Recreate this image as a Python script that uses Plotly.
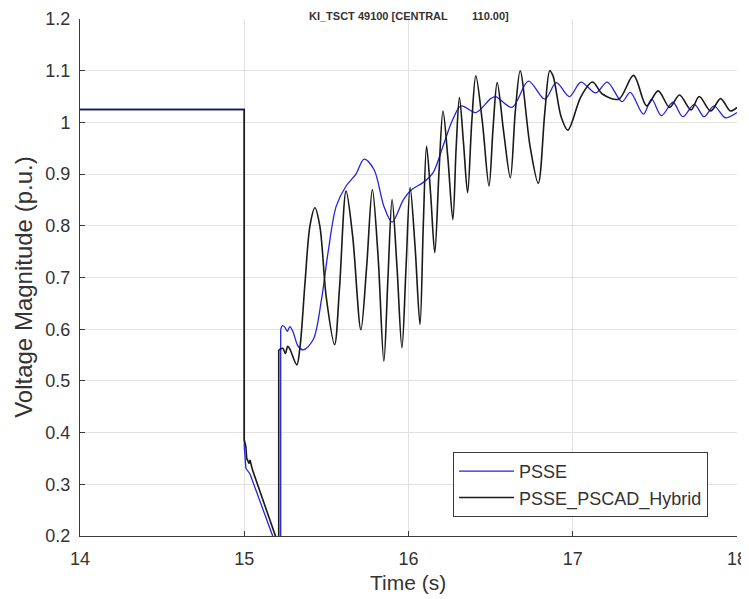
import plotly.graph_objects as go

# ---------------- data ----------------
# PSSE_PSCAD_Hybrid (black) - fault part (straight segments)
hyb_fault_t = [14.0, 15.0, 15.0, 15.005, 15.01, 15.015, 15.03, 15.035, 15.05, 15.19, 15.205, 15.21, 15.21]
hyb_fault_v = [1.025, 1.025, 0.386, 0.38, 0.373, 0.35, 0.34, 0.347, 0.328, 0.2, 0.05, 0.05, 0.56]
# PSSE_PSCAD_Hybrid (black) - recovery part (smooth)
hyb_rec_t = [15.21, 15.235, 15.25, 15.265, 15.28, 15.32, 15.34, 15.37, 15.40, 15.43, 15.46, 15.50,
             15.55, 15.58, 15.62, 15.66, 15.71, 15.745, 15.78, 15.815, 15.85, 15.875, 15.90, 15.93,
             15.96, 15.985, 16.01, 16.04, 16.07, 16.09, 16.11, 16.135, 16.16, 16.185, 16.21, 16.24,
             16.27, 16.29, 16.31, 16.335, 16.36, 16.385, 16.41, 16.45, 16.49, 16.515, 16.54, 16.58,
             16.62, 16.65, 16.68, 16.74, 16.79, 16.83, 16.86, 16.88, 16.93, 16.97, 17.05, 17.12,
             17.18, 17.28, 17.37, 17.45, 17.52, 17.59, 17.65, 17.72, 17.77, 17.84, 17.90, 17.96, 18.0]
hyb_rec_v = [0.56, 0.563, 0.553, 0.567, 0.56, 0.531, 0.567, 0.69, 0.80, 0.835, 0.80, 0.66,
             0.570, 0.68, 0.867, 0.78, 0.599, 0.72, 0.87, 0.74, 0.538, 0.70, 0.851, 0.72,
             0.564, 0.72, 0.874, 0.76, 0.609, 0.80, 0.954, 0.86, 0.748, 0.90, 1.022, 0.93,
             0.812, 0.95, 1.048, 0.96, 0.864, 1.00, 1.09, 1.00, 0.877, 0.99, 1.077, 0.98,
             0.893, 1.02, 1.10, 0.954, 0.882, 1.02, 1.10, 1.09, 1.01, 0.985, 1.05, 1.078,
             1.055, 1.045, 1.091, 1.032, 1.061, 1.029, 1.053, 1.024, 1.050, 1.022, 1.046, 1.022, 1.029]

# PSSE (blue) - fault part
psse_fault_t = [14.0, 15.0, 15.0, 15.005, 15.01, 15.035, 15.173, 15.2, 15.222, 15.222]
psse_fault_v = [1.025, 1.025, 0.373, 0.34, 0.331, 0.32, 0.2, 0.05, 0.05, 0.60]
# PSSE (blue) - recovery part
psse_rec_t = [15.222, 15.232, 15.247, 15.262, 15.278, 15.298, 15.328, 15.36, 15.42, 15.47, 15.51,
              15.56, 15.62, 15.68, 15.73, 15.79, 15.85, 15.90, 15.97, 16.02, 16.09, 16.15, 16.21,
              16.27, 16.32, 16.41, 16.50, 16.53, 16.63, 16.73, 16.83, 16.90, 16.98, 17.05, 17.14,
              17.21, 17.30, 17.35, 17.43, 17.48, 17.54, 17.61, 17.67, 17.74, 17.80, 17.86, 17.93, 18.0]
psse_rec_v = [0.60, 0.607, 0.604, 0.596, 0.605, 0.594, 0.567, 0.56, 0.58, 0.657, 0.748,
              0.838, 0.877, 0.90, 0.929, 0.909, 0.838, 0.807, 0.851, 0.87, 0.884, 0.903, 0.954,
              1.006, 1.032, 1.019, 1.046, 1.050, 1.029, 1.080, 1.045, 1.077, 1.050, 1.078, 1.057,
              1.078, 1.040, 1.058, 1.016, 1.045, 1.013, 1.039, 1.011, 1.035, 1.011, 1.032, 1.009, 1.019]

series_names = ["PSSE", "PSSE_PSCAD_Hybrid"]
x_ticks = [14, 15, 16, 17, 18]
y_ticks = [0.2, 0.3, 0.4, 0.5, 0.6, 0.7, 0.8, 0.9, 1.0, 1.1, 1.2]
y_tick_labels = ["0.2", "0.3", "0.4", "0.5", "0.6", "0.7", "0.8", "0.9", "1", "1.1", "1.2"]
title_text = "KI_TSCT 49100 [CENTRAL        110.00]"
x_title = "Time (s)"
y_title = "Voltage Magnitude (p.u.)"

BLUE = "#2323e0"
BLACK = "#1a1a1a"
FONT = "Liberation Sans, Arial, Helvetica, sans-serif"
TXT = "#333333"

fig = go.Figure()
fig.add_trace(go.Scatter(x=psse_fault_t, y=psse_fault_v, mode="lines", name=series_names[0],
                         legendgroup="psse", showlegend=True,
                         line=dict(color=BLUE, width=1.3)))
fig.add_trace(go.Scatter(x=psse_rec_t, y=psse_rec_v, mode="lines", name=series_names[0],
                         legendgroup="psse", showlegend=False,
                         line=dict(color=BLUE, width=1.3, shape="spline", smoothing=0.9)))
fig.add_trace(go.Scatter(x=hyb_fault_t, y=hyb_fault_v, mode="lines", name=series_names[1],
                         legendgroup="hyb", showlegend=True,
                         line=dict(color=BLACK, width=1.6)))
fig.add_trace(go.Scatter(x=hyb_rec_t, y=hyb_rec_v, mode="lines", name=series_names[1],
                         legendgroup="hyb", showlegend=False,
                         line=dict(color=BLACK, width=1.6, shape="spline", smoothing=0.9)))

axis_common = dict(
    showline=True, linecolor="#3a3a3a", linewidth=1,
    ticks="inside", ticklen=5, tickcolor="#3a3a3a", tickwidth=1,
    showgrid=True, gridcolor="#e2e2e2", gridwidth=1,
    zeroline=False, mirror=False, automargin=False,
    tickfont=dict(family=FONT, size=18, color=TXT),
)

# the page body adds an 8 px margin, so the figure is 8 px smaller each way
fig.update_layout(
    width=741, height=591,
    margin=dict(l=72, r=12, t=11, b=63),
    paper_bgcolor="white", plot_bgcolor="white",
    font=dict(family=FONT, color=TXT),
    showlegend=True,
    legend=dict(
        x=0.956, y=0.037, xanchor="right", yanchor="bottom",
        bgcolor="white", bordercolor="#3a3a3a", borderwidth=1,
        font=dict(family=FONT, size=18, color=TXT),
        tracegroupgap=0, itemwidth=55,
    ),
    xaxis=dict(range=[14, 18], tickvals=x_ticks, ticktext=[str(v) for v in x_ticks],
               ticklabelstandoff=6, **axis_common),
    yaxis=dict(range=[0.2, 1.2], tickvals=y_ticks, ticktext=y_tick_labels,
               ticklabelstandoff=5, **axis_common),
)

# axis titles placed as in the reference
fig.add_annotation(text=x_title, xref="paper", yref="paper", x=0.4992, y=-0.089,
                   xanchor="center", yanchor="middle", showarrow=False,
                   font=dict(family=FONT, size=21, color=TXT))
fig.add_annotation(text=y_title, xref="paper", yref="paper", x=-0.087, y=0.4816,
                   xanchor="center", yanchor="middle", textangle=-90, showarrow=False,
                   font=dict(family=FONT, size=24, color=TXT))

# title (mostly cropped in the reference) kept small so it fits above the axes
fig.add_annotation(text="<b>" + title_text + "</b>", xref="paper", yref="paper",
                   x=0.5, y=1.0213, xanchor="center", yanchor="top",
                   showarrow=False, font=dict(family=FONT, size=11, color=TXT))

fig.write_html("out.html")
